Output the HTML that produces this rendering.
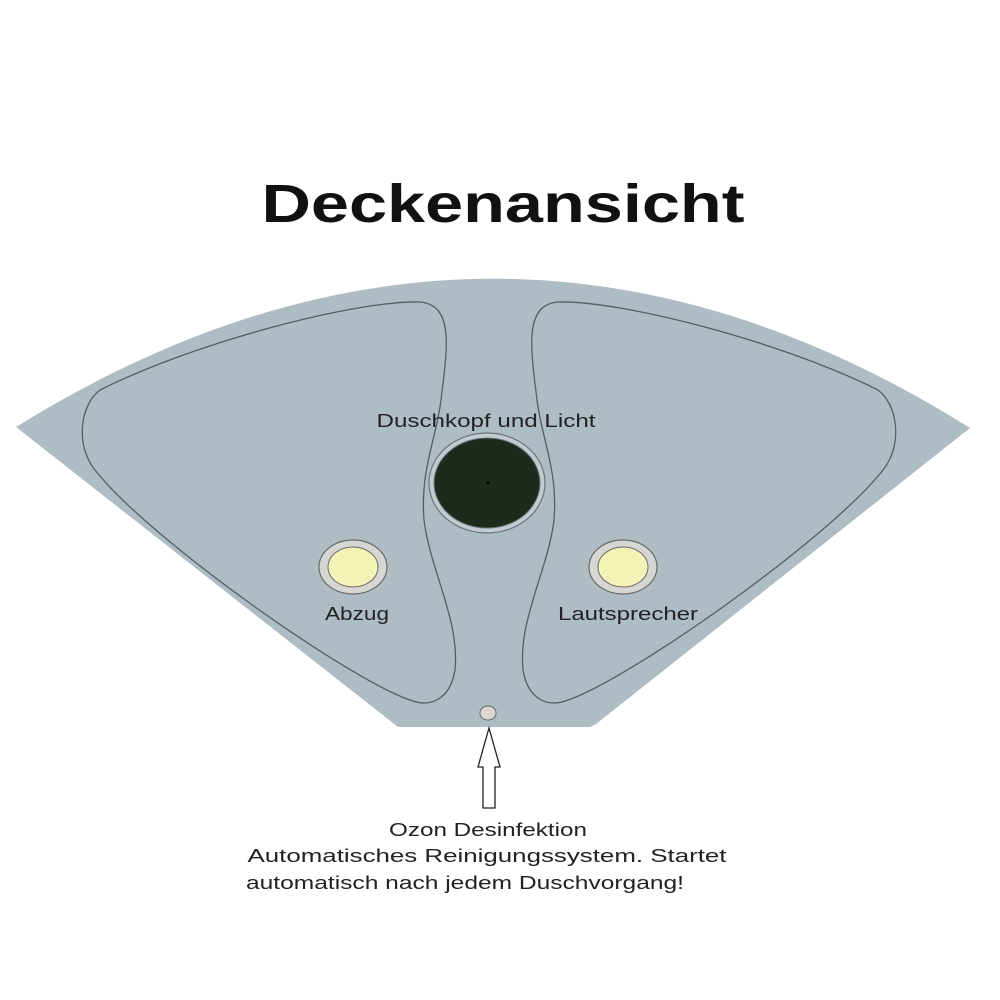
<!DOCTYPE html>
<html><head><meta charset="utf-8"><style>html,body{margin:0;padding:0;background:#fff}svg{display:block}</style></head>
<body>
<svg width="1000" height="1000" viewBox="0 0 1000 1000" xmlns="http://www.w3.org/2000/svg" font-family="'Liberation Sans', 'DejaVu Sans', sans-serif">
<rect width="1000" height="1000" fill="#fff"/>
<text x="503" y="222" font-size="54" font-weight="bold" text-anchor="middle" textLength="483" lengthAdjust="spacingAndGlyphs" fill="#111">Deckenansicht</text>
<path d="M16,427 Q495,130 970,428 L596,724 L590,727 L398,727 Z" fill="#aebcc4"/>
<path d="M100,390 C200,340 360,300 420,302 C455,305 447,350 441,400 C436,440 420,470 424,520 C430,570 460,620 455,670 C450,700 430,708 410,700 C350,680 150,540 95,470 C75,445 80,405 100,390 Z" fill="none" stroke="#555e64" stroke-width="1.3"/>
<path d="M878,390 C778,340 618,300 558,302 C523,305 531,350 537,400 C542,440 558,470 554,520 C548,570 518,620 523,670 C528,700 548,708 568,700 C628,680 828,540 883,470 C903,445 898,405 878,390 Z" fill="none" stroke="#555e64" stroke-width="1.3"/>
<ellipse cx="487" cy="483" rx="58" ry="50" fill="#c2ccd0" stroke="#6a747a" stroke-width="1.2"/>
<ellipse cx="487" cy="483" rx="53" ry="45" fill="#1f2a1c" stroke="#6a747a" stroke-width="1"/>
<circle cx="488" cy="483" r="1.5" fill="#000"/>
<text x="486" y="427" font-size="18" text-anchor="middle" textLength="219" lengthAdjust="spacingAndGlyphs" fill="#222">Duschkopf und Licht</text>
<ellipse cx="353" cy="567" rx="34" ry="27" fill="#d6d6d2" stroke="#6a6a66" stroke-width="1.2"/>
<ellipse cx="353" cy="567" rx="25" ry="20" fill="#f3f3b8" stroke="#6a6a66" stroke-width="1"/>
<text x="357" y="620" font-size="18" text-anchor="middle" textLength="64" lengthAdjust="spacingAndGlyphs" fill="#222">Abzug</text>
<ellipse cx="623" cy="567" rx="34" ry="27" fill="#d6d6d2" stroke="#6a6a66" stroke-width="1.2"/>
<ellipse cx="623" cy="567" rx="25" ry="20" fill="#f3f3b8" stroke="#6a6a66" stroke-width="1"/>
<text x="628" y="620" font-size="18" text-anchor="middle" textLength="140" lengthAdjust="spacingAndGlyphs" fill="#222">Lautsprecher</text>
<ellipse cx="488" cy="713" rx="8" ry="7" fill="#ddd8d4" stroke="#666" stroke-width="1"/>
<path d="M489,728 L500,767 L495,767 L495,808 L483,808 L483,767 L478,767 Z" fill="#fff" stroke="#222" stroke-width="1.3"/>
<g font-size="18" fill="#222" text-anchor="middle">
<text x="488" y="836" textLength="198" lengthAdjust="spacingAndGlyphs">Ozon Desinfektion</text>
<text x="487" y="862" textLength="479" lengthAdjust="spacingAndGlyphs">Automatisches Reinigungssystem. Startet</text>
<text x="465" y="889" textLength="438" lengthAdjust="spacingAndGlyphs">automatisch nach jedem Duschvorgang!</text>
</g>
</svg>
</body></html>
